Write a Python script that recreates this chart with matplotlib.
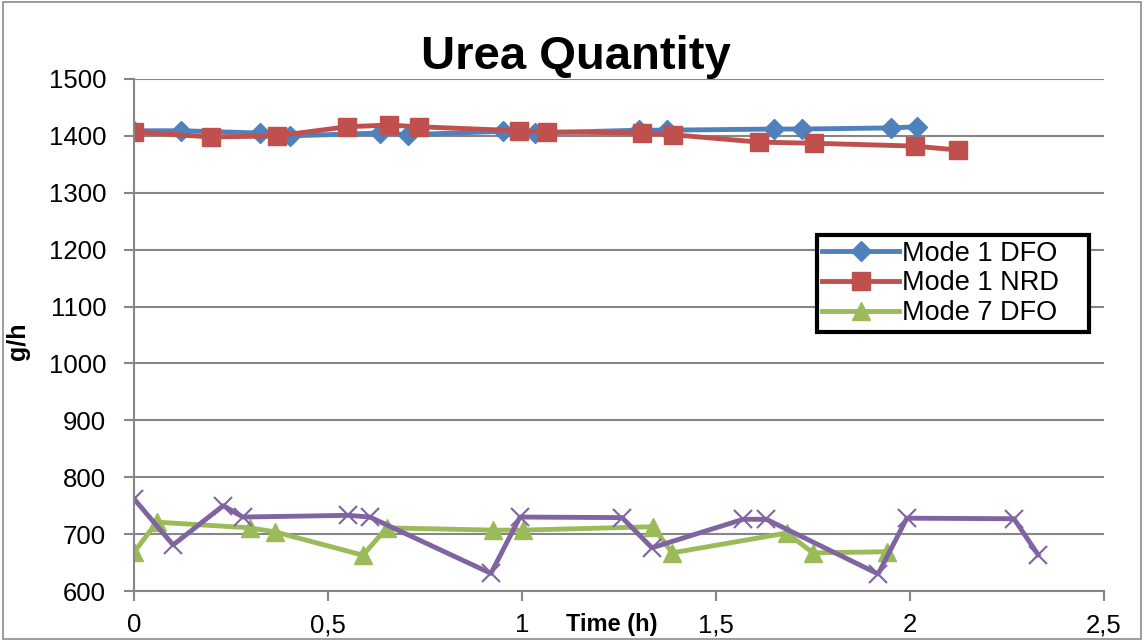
import matplotlib
matplotlib.use("Agg")
import matplotlib.pyplot as plt
from matplotlib.patches import Rectangle

plt.rcParams["font.family"] = ["Liberation Sans", "DejaVu Sans"]

# data
dfo1_t = [0, 0.121, 0.325, 0.402, 0.634, 0.706, 0.951, 1.033, 1.302, 1.374, 1.65, 1.722, 1.951, 2.018]
dfo1_v = [1409, 1409, 1405, 1400, 1405, 1402, 1408, 1405, 1410, 1410, 1412, 1412, 1414, 1416]

nrd1_t = [0, 0.198, 0.369, 0.549, 0.657, 0.735, 0.992, 1.064, 1.309, 1.389, 1.611, 1.753, 2.013, 2.124]
nrd1_v = [1407, 1398, 1400, 1416, 1419, 1416, 1409, 1407, 1405, 1402, 1389, 1387, 1382, 1375]

dfo7_t = [0, 0.059, 0.299, 0.363, 0.59, 0.652, 0.925, 1.003, 1.338, 1.387, 1.683, 1.75, 1.94]
dfo7_v = [668, 721, 711, 704, 663, 711, 707, 707, 713, 667, 702, 667, 669]

nrd7_t = [0, 0.101, 0.23, 0.281, 0.552, 0.608, 0.92, 0.995, 1.258, 1.335, 1.57, 1.63, 1.918, 1.992, 2.268, 2.33]
nrd7_v = [762, 681, 750, 730, 733, 730, 631, 730, 729, 676, 726, 726, 630, 728, 727, 664]

fig = plt.figure(figsize=(11.44, 6.41), dpi=100)
ax = fig.add_axes([0.1171, 0.078, 0.8479, 0.7988])

# outer chart border
fig.patches.append(Rectangle((0.003, 0.003), 0.994, 0.994, transform=fig.transFigure,
                             fill=False, edgecolor="#8c8c8c", linewidth=1.2))

lw = 3.5
ax.plot(dfo1_t, dfo1_v, color="#4F81BD", lw=lw, marker="D", ms=10, label="Mode 1 DFO")
ax.plot(nrd1_t, nrd1_v, color="#C0504D", lw=lw, marker="s", ms=13, label="Mode 1 NRD")
ax.plot(dfo7_t, dfo7_v, color="#9BBB59", lw=lw, marker="^", ms=13, label="Mode 7 DFO")
ax.plot(nrd7_t, nrd7_v, color="#8064A2", lw=lw, marker="x", ms=13, mew=1.5)

ax.set_xlim(0, 2.5)
ax.set_ylim(600, 1500)
ax.set_xticks([0, 0.5, 1, 1.5, 2, 2.5])
ax.set_xticklabels(["0", "0,5", "1", "1,5", "2", "2,5"])
ax.set_yticks(range(600, 1501, 100))
ax.tick_params(labelsize=18.5, length=7, color="#868686", width=1.5, pad=9)
ax.tick_params(axis="y", pad=13)

ax.grid(axis="y", color="#868686", lw=1.5)
ax.set_axisbelow(True)
for s in ["top", "right"]:
    ax.spines[s].set_visible(False)
for s in ["left", "bottom"]:
    ax.spines[s].set_color("#868686")
    ax.spines[s].set_linewidth(1.5)

ax.set_title("Urea Quantity", fontsize=34, fontweight="bold", pad=2, x=0.456)
ax.set_ylabel("g/h", fontsize=18, fontweight="bold")
ax.yaxis.set_label_coords(-0.107, 0.487)
ax.text(0.493, -0.066, "Time (h)", transform=ax.transAxes, fontsize=17,
        fontweight="bold", ha="center", va="center")

leg = ax.legend(loc="upper left", bbox_to_anchor=(0.704, 0.5, 0.281, 0.195),
                mode="expand", fontsize=19.5,
                frameon=True, fancybox=False, borderpad=0.2, labelspacing=0.14,
                handlelength=2.85, handletextpad=0.1, borderaxespad=0)
leg.get_frame().set_edgecolor("black")
leg.get_frame().set_linewidth(3)
leg.get_frame().set_alpha(1)

fig.savefig("out.png", dpi=100)
